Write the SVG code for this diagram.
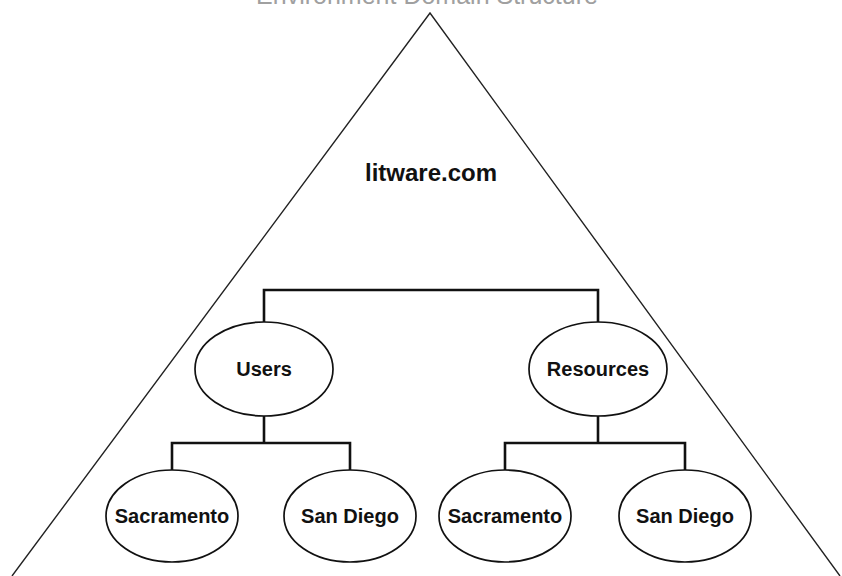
<svg xmlns="http://www.w3.org/2000/svg" width="842" height="576" viewBox="0 0 842 576">
<style>
.title{font-family:"Liberation Sans",Arial,sans-serif;font-size:25px;fill:#a0a0a0}
.lbl{font-family:"Liberation Sans",Arial,sans-serif;font-weight:bold;fill:#111111;text-anchor:middle}
.node ellipse{fill:#ffffff;stroke:#111111;stroke-width:1.7}
.conn{fill:none;stroke:#111111;stroke-width:2.6}
.tri{fill:none;stroke:#222222;stroke-width:1.4}
</style>
<rect width="842" height="576" fill="#ffffff"/>
<text class="title" x="427" y="3.5" text-anchor="middle">Environment Domain Structure</text>
<g id="domain">
<polyline class="tri" points="12,576 430,13 840,576"/>
<text class="lbl" x="431" y="181" font-size="24">litware.com</text>
</g>
<g id="connectors">
<polyline class="conn" points="264,322 264,290 598,290 598,322"/>
<polyline class="conn" points="264,416 264,443"/>
<polyline class="conn" points="172,471 172,443 350,443 350,471"/>
<polyline class="conn" points="598,416 598,443"/>
<polyline class="conn" points="505,471 505,443 685,443 685,471"/>
</g>
<g id="users" class="node">
<ellipse cx="264" cy="369" rx="69" ry="47"/>
<text class="lbl" x="264" y="376" font-size="20">Users</text>
</g>
<g id="resources" class="node">
<ellipse cx="598" cy="369" rx="69" ry="47"/>
<text class="lbl" x="598" y="376" font-size="20">Resources</text>
</g>
<g id="users-sacramento" class="node">
<ellipse cx="172" cy="516" rx="66" ry="46"/>
<text class="lbl" x="172" y="523" font-size="20">Sacramento</text>
</g>
<g id="users-sandiego" class="node">
<ellipse cx="350" cy="516" rx="66" ry="46"/>
<text class="lbl" x="350" y="523" font-size="20">San Diego</text>
</g>
<g id="resources-sacramento" class="node">
<ellipse cx="505" cy="516" rx="66" ry="46"/>
<text class="lbl" x="505" y="523" font-size="20">Sacramento</text>
</g>
<g id="resources-sandiego" class="node">
<ellipse cx="685" cy="516" rx="66" ry="46"/>
<text class="lbl" x="685" y="523" font-size="20">San Diego</text>
</g>
</svg>
